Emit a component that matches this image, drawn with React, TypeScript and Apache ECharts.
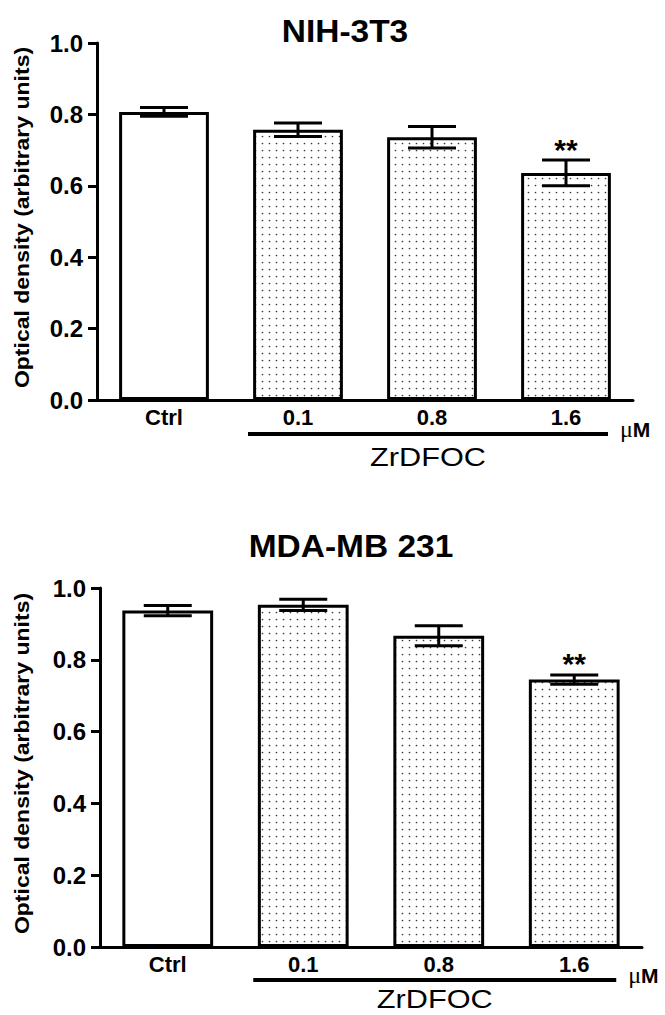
import React, { useEffect, useRef } from 'react';
import * as echarts from 'echarts';

// Groups on the category axis
const categories = ['Ctrl', '0.1', '0.8', '1.6'];

// NIH-3T3: mean optical density and SEM per group
const nihMeans = [0.807, 0.757, 0.736, 0.636];
const nihErrors = [0.012, 0.019, 0.030, 0.036];
const nihMarks = ['', '', '', '**'];

// MDA-MB 231: mean optical density and SEM per group
const mdaMeans = [0.937, 0.953, 0.867, 0.745];
const mdaErrors = [0.014, 0.016, 0.028, 0.013];
const mdaMarks = ['', '', '', '**'];

// Value axis ticks
const yMin = 0;
const yMax = 1;
const yStep = 0.2;

const panelTitles = ['NIH-3T3', 'MDA-MB 231'];
const yAxisName = 'Optical density (arbitrary units)';
const treatmentName = 'ZrDFOC';
const unitLabel = 'μM';

const SANS = "'Liberation Sans', Arial, Helvetica, sans-serif";
const SERIF = "'Liberation Serif', 'Times New Roman', serif";

// Layout of the two panels (pixels)
const panels = [
  { grid: { left: 97, top: 43, width: 536, height: 357 }, titleX: 345, titleY: 31, nameX: 22, lineOff: 34, wordOff: 57 },
  { grid: { left: 100, top: 588, width: 542, height: 359 }, titleX: 351, titleY: 546, nameX: 22, lineOff: 33, wordOff: 52 },
];

const dotTile =
  'data:image/svg+xml;charset=utf-8,' +
  encodeURIComponent(
    "<svg xmlns='http://www.w3.org/2000/svg' width='7' height='7'>" +
      "<rect width='7' height='7' fill='#ffffff'/>" +
      "<circle cx='3.5' cy='3.5' r='0.85' fill='#3a3a3a'/></svg>"
  );

const dotted: any = { image: dotTile, repeat: 'repeat', imageWidth: 7, imageHeight: 7 };

function barData(values: number[]) {
  return values.map((v, i) => ({
    value: v,
    itemStyle: { color: i === 0 ? '#ffffff' : dotted },
  }));
}

function errorData(means: number[], errs: number[]) {
  return means.map((m, i) => [i, m, errs[i]]);
}

function errorRenderer(marks: string[]) {
  return (params: any, api: any) => {
    const i = api.value(0);
    const m = api.value(1);
    const e = api.value(2);
    const hi = api.coord([i, m + e]);
    const lo = api.coord([i, m - e]);
    const half = 24;
    const style = { stroke: '#000', lineWidth: 3 };
    const children: any[] = [
      { type: 'line', shape: { x1: hi[0], y1: hi[1], x2: lo[0], y2: lo[1] }, style },
      { type: 'line', shape: { x1: hi[0] - half, y1: hi[1], x2: hi[0] + half, y2: hi[1] }, style },
      { type: 'line', shape: { x1: lo[0] - half, y1: lo[1], x2: lo[0] + half, y2: lo[1] }, style },
    ];
    const mark = marks[params.dataIndex];
    if (mark) {
      children.push({
        type: 'text',
        x: hi[0],
        y: hi[1] + 4,
        style: {
          text: mark,
          fill: '#000',
          font: `bold 30px ${SANS}`,
          textAlign: 'center',
          textVerticalAlign: 'bottom',
          align: 'center',
          verticalAlign: 'bottom',
        },
      });
    }
    return { type: 'group', children };
  };
}

export default function App() {
  const ref = useRef<HTMLDivElement>(null);

  useEffect(() => {
    if (!ref.current) return;
    const chart = echarts.init(ref.current, null, { renderer: 'svg' });

    const sets = [
      { means: nihMeans, errs: nihErrors, marks: nihMarks },
      { means: mdaMeans, errs: mdaErrors, marks: mdaMarks },
    ];

    const option: any = {
      animation: false,
      backgroundColor: '#ffffff',
      grid: panels.map((p) => ({ ...p.grid, containLabel: false })),
      xAxis: panels.map((_, g) => ({
        type: 'category',
        gridIndex: g,
        data: categories,
        axisLine: { show: true, lineStyle: { color: '#000', width: 3 } },
        axisTick: { show: false },
        axisLabel: {
          color: '#000',
          fontFamily: SANS,
          fontWeight: 'bold',
          fontSize: 22,
          margin: 6,
        },
        splitLine: { show: false },
      })),
      yAxis: panels.map((_, g) => ({
        type: 'value',
        gridIndex: g,
        min: yMin,
        max: yMax,
        interval: yStep,
        axisLine: { show: true, lineStyle: { color: '#000', width: 3 } },
        axisTick: { show: true, length: 9, lineStyle: { color: '#000', width: 3 } },
        axisLabel: {
          color: '#000',
          fontFamily: SANS,
          fontWeight: 'bold',
          fontSize: 24,
          margin: 14,
          formatter: (v: number) => v.toFixed(1),
        },
        splitLine: { show: false },
      })),
      series: sets.flatMap((s, g) => [
        {
          type: 'bar',
          xAxisIndex: g,
          yAxisIndex: g,
          barWidth: '67%',
          data: barData(s.means),
          itemStyle: { borderColor: '#000', borderWidth: 3 },
          z: 2,
        },
        {
          type: 'custom',
          xAxisIndex: g,
          yAxisIndex: g,
          data: errorData(s.means, s.errs),
          encode: { x: 0, y: 1 },
          renderItem: errorRenderer(s.marks),
          z: 5,
        },
      ]),
    };

    chart.setOption(option);

    // Annotations placed from the axes' own pixel mapping
    const graphics: any[] = [];
    panels.forEach((p, g) => {
      const at = (i: number, v: number) => chart.convertToPixel({ gridIndex: g } as any, [i, v]) as number[];
      const base = at(0, yMin)[1];
      const topY = at(0, yMax)[1];
      const x1 = at(1, 0)[0] - 50;
      const x3 = at(3, 0)[0];
      const x2 = x3 + 42;
      const lineY = base + p.lineOff;

      graphics.push({
        type: 'text',
        x: p.titleX,
        y: p.titleY,
        scaleX: 1.08,
        style: {
          text: panelTitles[g],
          fill: '#000',
          font: `bold 31px ${SANS}`,
          textAlign: 'center',
          textVerticalAlign: 'middle',
          align: 'center',
          verticalAlign: 'middle',
        },
      });
      // rotated value-axis title
      graphics.push({
        type: 'text',
        x: p.nameX,
        y: (base + topY) / 2 - 4,
        rotation: Math.PI / 2,
        scaleX: 1.15,
        style: {
          text: yAxisName,
          fill: '#000',
          font: `bold 20px ${SANS}`,
          textAlign: 'center',
          textVerticalAlign: 'middle',
          align: 'center',
          verticalAlign: 'middle',
        },
      });
      graphics.push({
        type: 'line',
        shape: { x1, y1: lineY, x2, y2: lineY },
        style: { stroke: '#000', lineWidth: 4 },
      });
      graphics.push({
        type: 'text',
        x: (x1 + x2) / 2,
        y: base + p.wordOff,
        scaleX: 1.18,
        style: {
          text: treatmentName,
          fill: '#000',
          font: `26px ${SANS}`,
          textAlign: 'center',
          textVerticalAlign: 'middle',
          align: 'center',
          verticalAlign: 'middle',
        },
      });
      graphics.push({
        type: 'text',
        x: x3 + 54,
        y: lineY - 5,
        style: {
          text: `{u|${unitLabel.slice(0, 1)}}{m|${unitLabel.slice(1)}}`,
          textAlign: 'left',
          textVerticalAlign: 'middle',
          align: 'left',
          verticalAlign: 'middle',
          rich: {
            u: { fill: '#000', fontFamily: SERIF, fontSize: 24 },
            m: { fill: '#000', fontFamily: SANS, fontWeight: 'bold', fontSize: 21 },
          },
        },
      });
    });

    chart.setOption({ graphic: graphics });

    return () => chart.dispose();
  }, []);

  return (
    <div
      ref={ref}
      style={{ position: 'absolute', left: 0, top: 0, width: 665, height: 1015, background: '#fff' }}
    />
  );
}
